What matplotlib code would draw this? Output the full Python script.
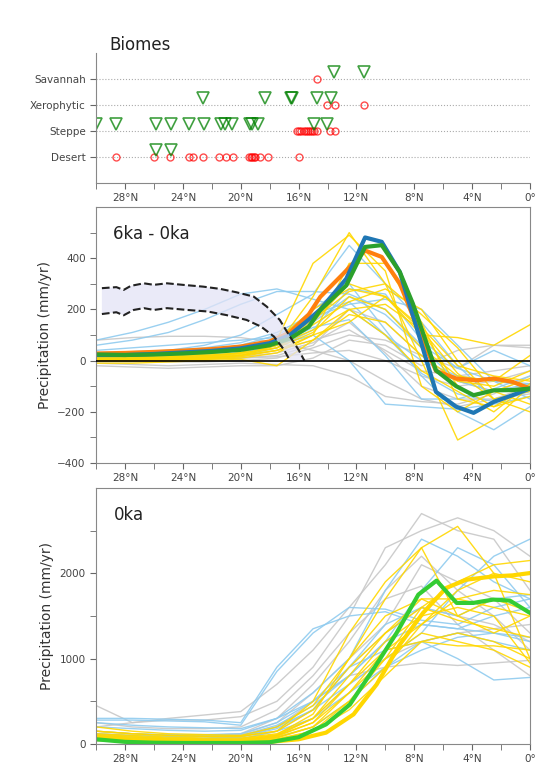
import numpy as np
import matplotlib
matplotlib.use('Agg')
import matplotlib.pyplot as plt
from matplotlib.ticker import FixedLocator, FuncFormatter

# ---- biome data (latitude of each site) ----
biome_names = ['Desert', 'Steppe', 'Xerophytic', 'Savannah']

red_desert = [28.6, 26.0, 24.9, 23.55, 23.3, 22.6, 21.5, 21.0, 20.5, 19.4, 19.3, 19.2, 19.1, 19.0, 18.7, 18.1, 15.95]
red_steppe = [16.1, 15.95, 15.8, 15.65, 15.5, 15.35, 15.2, 15.05, 14.9, 14.75, 13.8, 13.5]
red_xero = [14.05, 13.5, 11.5]
red_sav = [14.75]

green_desert = [25.85, 24.84]
green_steppe = [30.0, 28.6, 25.85, 24.84, 23.55, 22.56, 21.36, 21.08, 20.62, 19.35, 19.2, 18.78, 14.95, 14.05]
green_xero = [22.6, 18.3, 16.55, 16.45, 14.75, 13.75]
green_sav = [13.55, 11.5]

# ---- ensemble members, common latitude grid ----
lat = [30, 27.5, 25, 22.5, 20, 17.5, 15, 12.5, 10, 7.5, 5, 2.5, 0]

# 6ka - 0ka (mm/yr)
d_gray = [
    [-10, -15, -20, -15, -10, -15, -20, -60, -140, -160, -170, -130, -60],
    [80, 90, 95, 95, 90, 70, 40, 0, -80, -150, -180, -150, -100],
    [0, 0, 5, 5, 10, 15, 30, 40, 0, -60, -100, -80, -40],
    [-20, -25, -30, -25, -20, -20, 10, 80, 60, -20, 40, 60, 60],
    [10, 10, 15, 15, 20, 40, 80, 120, 40, -40, -60, -40, -20],
    [5, 5, 5, 10, 10, 20, 60, 200, 150, 20, -80, -120, -100],
    [-5, -5, -5, -5, 0, 10, 50, 100, 80, 20, -30, 60, 50],
    [0, 5, 5, 10, 15, 30, 70, 150, 30, -100, -150, -150, -130],
]
d_blue = [
    [80, 110, 150, 200, 260, 280, 240, 200, 100, 0, -60, -80, -90],
    [60, 80, 110, 160, 220, 270, 270, 260, 200, 60, -30, -80, -100],
    [20, 30, 40, 60, 100, 180, 260, 450, 300, 150, -20, -150, -120],
    [10, 15, 20, 25, 40, 80, 200, 300, 120, -60, -200, -270, -180],
    [20, 25, 30, 40, 60, 100, 170, 220, 240, 200, 60, -80, -150],
    [5, 10, 10, 15, 30, 60, 100, 0, -170, -180, -190, -170, -140],
    [40, 50, 60, 70, 80, 90, 150, 250, 180, 50, -80, -120, -90],
    [30, 35, 40, 50, 70, 110, 180, 230, 100, -50, -130, -160, -120],
    [10, 10, 15, 20, 30, 60, 130, 160, 20, -150, -150, -110, -60],
    [0, 0, 5, 10, 20, 50, 120, 280, 260, 80, -30, 40, -20],
]
d_gold = [
    [10, 10, 15, 20, 30, 80, 380, 490, 350, -100, -200, -120, -70],
    [0, 0, 5, 10, 20, 60, 250, 500, 300, 0, -310, -230, -100],
    [5, 5, 10, 15, 30, 80, 200, 280, 250, 100, 90, 60, 140],
    [0, 5, 5, 10, 20, 50, 140, 230, 280, 200, 0, -150, -200],
    [-10, -10, -5, 0, 5, -20, 80, 200, 220, 120, -50, -150, -120],
    [20, 20, 25, 30, 40, 70, 150, 300, 250, 120, -100, -180, -140],
    [0, 0, 0, 5, 10, 30, 100, 380, 380, 150, -150, -180, -100],
    [10, 10, 15, 20, 30, 50, 110, 250, 200, 50, -60, -80, 20],
    [5, 5, 5, 10, 20, 40, 80, 180, 150, 20, -80, -100, -40],
    [0, 0, 5, 5, 15, 40, 100, 150, 250, 130, -20, -60, -80],
    [15, 15, 20, 25, 40, 70, 160, 270, 300, 180, 50, -120, -170],
    [5, 5, 10, 15, 25, 60, 120, 200, 100, -40, -120, -200, -90],
]

# 0ka (mm/yr)
p_gray = [
    [450, 250, 300, 340, 380, 700, 1100, 1600, 2100, 2700, 2500, 2400, 1800],
    [200, 250, 280, 280, 320, 500, 900, 1500, 2300, 2500, 2650, 2500, 2200],
    [150, 120, 100, 100, 120, 300, 700, 1200, 1800, 2200, 1800, 1500, 1100],
    [100, 80, 60, 60, 80, 200, 500, 800, 900, 950, 920, 950, 980],
    [250, 200, 180, 180, 200, 400, 800, 1300, 1700, 1850, 1400, 1100, 800],
    [80, 60, 50, 50, 60, 150, 400, 900, 1300, 1600, 1500, 1400, 1200],
    [120, 100, 90, 90, 110, 250, 600, 1000, 1400, 2100, 1900, 1700, 1300],
    [50, 40, 30, 30, 40, 100, 300, 700, 1000, 1200, 1300, 1350, 1400],
]
p_blue = [
    [300, 300, 290, 280, 250, 900, 1350, 1500, 1550, 1400, 1350, 1300, 1250],
    [280, 280, 270, 260, 220, 850, 1300, 1600, 1580, 1450, 1400, 1600, 1700],
    [200, 180, 160, 150, 160, 300, 600, 1000, 1800, 2400, 2200, 1900, 1700],
    [150, 120, 110, 110, 120, 250, 500, 800, 1200, 1800, 2300, 2100, 1600],
    [100, 80, 70, 70, 90, 200, 400, 700, 1000, 1300, 1800, 2200, 2400],
    [250, 220, 200, 190, 180, 300, 500, 900, 1100, 1200, 1000, 750, 780],
    [60, 50, 40, 40, 60, 150, 300, 600, 900, 1200, 1300, 1200, 1100],
    [120, 100, 90, 90, 100, 220, 450, 800, 1200, 1400, 1350, 1500, 1600],
    [40, 30, 30, 30, 40, 80, 200, 500, 900, 1100, 1250, 1300, 1200],
    [80, 70, 60, 60, 80, 180, 400, 900, 1400, 1600, 1500, 1700, 1750],
]
p_gold = [
    [200, 150, 120, 110, 100, 200, 450, 1000, 1700, 2300, 2550, 2000, 1000],
    [150, 120, 100, 90, 90, 150, 500, 1300, 1900, 2300, 1500, 1300, 1500],
    [100, 80, 60, 50, 50, 100, 250, 600, 1000, 1600, 1900, 2100, 2150],
    [80, 60, 50, 40, 40, 80, 200, 500, 900, 1400, 1800, 2000, 1900],
    [120, 100, 80, 70, 70, 120, 300, 700, 1200, 1500, 1600, 1500, 950],
    [60, 50, 40, 30, 30, 60, 150, 400, 800, 1200, 1300, 1200, 1000],
    [150, 120, 100, 90, 90, 150, 400, 900, 1300, 1700, 1700, 1600, 1500],
    [40, 30, 30, 20, 20, 50, 150, 500, 1000, 1300, 1200, 1100, 900],
    [90, 70, 60, 50, 50, 100, 300, 800, 1300, 1600, 1450, 1350, 1250],
    [50, 40, 30, 30, 30, 70, 200, 600, 1100, 1400, 1700, 1800, 1750],
    [110, 90, 70, 60, 60, 110, 350, 1000, 1500, 1700, 1500, 1700, 1550],
    [70, 50, 40, 40, 40, 90, 250, 700, 1100, 1200, 1150, 1150, 1100],
]

# ---- highlighted curves ----
orange_lat = [30, 28, 26, 24, 22, 20, 18, 16.6, 15.3, 14.5, 12.9, 11.4, 10.25, 9.0, 7.6, 6.5, 5.1, 3.7, 2.5, 1.2, 0]
orange_val = [28, 30, 34, 39, 45, 55, 75, 110, 180, 249, 340, 430, 405, 301, 105, -40, -70, -77, -70, -83, -109]
blue_lat = [30, 28, 26, 24, 22, 20, 18, 16.6, 15.3, 14.5, 12.7, 11.4, 10.25, 9.0, 6.5, 5.1, 3.9, 2.5, 1.2, 0]
blue_val = [22, 22, 26, 32, 38, 48, 68, 100, 160, 200, 320, 481, 464, 346, -122, -180, -204, -161, -135, -109]
green_lat = [30, 28, 26, 24, 22, 20, 18, 16.6, 15.3, 14.5, 12.7, 11.4, 10.25, 9.0, 8.1, 6.5, 5.1, 3.9, 2.5, 1.2, 0]
green_val = [24, 22, 24, 28, 34, 42, 60, 86, 132, 197, 294, 444, 451, 346, 223, -38, -100, -135, -116, -115, -109]

pi_green_lat = [30, 28, 26, 24, 22, 20, 18, 16, 14.1, 12.45, 10.84, 9.22, 7.72, 6.46, 5.07, 3.92, 2.54, 1.39, 0]
pi_green_val = [55, 25, 15, 12, 12, 12, 20, 80, 230, 463, 873, 1302, 1750, 1914, 1653, 1653, 1692, 1680, 1536]
pi_gold_lat = [30, 28, 26, 24, 22, 20, 18, 16, 14.1, 12.2, 10.6, 9.0, 7.4, 5.8, 4.4, 2.5, 1.2, 0]
pi_gold_val = [80, 45, 30, 25, 20, 20, 25, 55, 133, 347, 698, 1165, 1535, 1828, 1925, 1964, 1976, 2003]

# required-change envelope
upper_lat = [29.6, 28.6, 28.1, 27.6, 26.7, 26.0, 25.1, 24.0, 22.6, 21.4, 20.3, 19.1, 18.2, 17.3, 16.6, 16.0, 15.6]
upper_val = [283, 287, 276, 292, 302, 296, 302, 296, 289, 280, 267, 250, 211, 159, 94, 42, 0]
lower_lat = [29.6, 28.6, 28.1, 27.4, 26.7, 26.0, 25.1, 23.7, 22.3, 21.0, 19.6, 18.6, 17.7, 17.0, 16.6]
lower_val = [182, 189, 177, 198, 205, 198, 205, 198, 192, 178, 159, 133, 94, 42, 0]

GRAY = '#c8c8c8'
LBLUE = '#8fcbef'
GOLD = '#ffd700'
TXT = '#444444'


def lat_fmt(v, pos=None):
    return '0°' if v == 0 else '%d°N' % v


def style_x(ax):
    ax.set_xlim(30, 0)
    ax.xaxis.set_major_locator(FixedLocator([28, 24, 20, 16, 12, 8, 4, 0]))
    ax.xaxis.set_minor_locator(FixedLocator([30, 26, 22, 18, 14, 10, 6, 2]))
    ax.xaxis.set_major_formatter(FuncFormatter(lat_fmt))
    ax.tick_params(axis='both', which='both', direction='out', length=4,
                   color='#666666', labelcolor=TXT, labelsize=7.5)
    for s in ax.spines.values():
        s.set_color('#888888')


fig = plt.figure(figsize=(5.43, 7.67), dpi=100)

# ---- Biomes ----
ax0 = fig.add_axes([0.177, 0.7614, 0.799, 0.1696])
style_x(ax0)
ax0.spines['top'].set_visible(False)
ax0.spines['right'].set_visible(False)
ax0.set_ylim(0, 5)
ax0.set_yticks([1, 2, 3, 4])
ax0.set_yticklabels(biome_names)
for yy in [1, 2, 3, 4]:
    ax0.axhline(yy, color='#aaaaaa', ls=':', lw=0.8, zorder=0)
red_sets = [red_desert, red_steppe, red_xero, red_sav]
green_sets = [green_desert, green_steppe, green_xero, green_sav]
for i, (r, g) in enumerate(zip(red_sets, green_sets)):
    ax0.plot(r, [i + 1] * len(r), 'o', mfc='none', mec='red', ms=5, mew=1, alpha=0.7, clip_on=False)
    ax0.plot(g, [i + 1.25] * len(g), 'v', mfc='none', mec='green', ms=8, mew=1.2, alpha=0.75, clip_on=True)
ax0.text(0.03, 1.02, 'Biomes', transform=ax0.transAxes, fontsize=12, color='#222222')

# ---- 6ka - 0ka ----
ax1 = fig.add_axes([0.177, 0.3963, 0.799, 0.3338])
style_x(ax1)
for v in d_gray:
    ax1.plot(lat, v, color=GRAY, lw=1, alpha=0.9)
for v in d_blue:
    ax1.plot(lat, v, color=LBLUE, lw=1, alpha=0.9)
for v in d_gold:
    ax1.plot(lat, v, color=GOLD, lw=1, alpha=0.9)
ax1.plot(orange_lat, orange_val, color='#ff7f0e', lw=3)
ax1.plot(blue_lat, blue_val, color='#1f77b4', lw=3)
ax1.plot(green_lat, green_val, color='#2ca02c', lw=3)
ax1.fill(np.r_[upper_lat, lower_lat[::-1]], np.r_[upper_val, lower_val[::-1]],
         color='#e3e3f6', alpha=0.75, lw=0, zorder=3)
ax1.plot(upper_lat, upper_val, color='#222222', ls='--', lw=1.5, zorder=4)
ax1.plot(lower_lat, lower_val, color='#222222', ls='--', lw=1.5, zorder=4)
ax1.axhline(0, color='black', lw=1.2, zorder=5)
ax1.set_ylim(-400, 600)
ax1.yaxis.set_major_locator(FixedLocator([-400, -200, 0, 200, 400]))
ax1.yaxis.set_minor_locator(FixedLocator([-300, -100, 100, 300, 500]))
ax1.set_ylabel('Precipitation (mm/yr)', fontsize=10, color='#333333')
ax1.text(0.04, 0.93, '6ka - 0ka', transform=ax1.transAxes, fontsize=12,
         color='#222222', va='top')

# ---- 0ka ----
ax2 = fig.add_axes([0.177, 0.0300, 0.799, 0.3338])
style_x(ax2)
for v in p_gray:
    ax2.plot(lat, v, color=GRAY, lw=1, alpha=0.9)
for v in p_blue:
    ax2.plot(lat, v, color=LBLUE, lw=1, alpha=0.9)
for v in p_gold:
    ax2.plot(lat, v, color=GOLD, lw=1, alpha=0.9)
ax2.plot(pi_gold_lat, pi_gold_val, color=GOLD, lw=3)
ax2.plot(pi_green_lat, pi_green_val, color='#33cc33', lw=3)
ax2.set_ylim(0, 3000)
ax2.yaxis.set_major_locator(FixedLocator([0, 1000, 2000]))
ax2.yaxis.set_minor_locator(FixedLocator([500, 1500, 2500]))
ax2.set_ylabel('Precipitation (mm/yr)', fontsize=10, color='#333333')
ax2.text(0.04, 0.93, '0ka', transform=ax2.transAxes, fontsize=12,
         color='#222222', va='top')

fig.savefig('out.png', dpi=100)
